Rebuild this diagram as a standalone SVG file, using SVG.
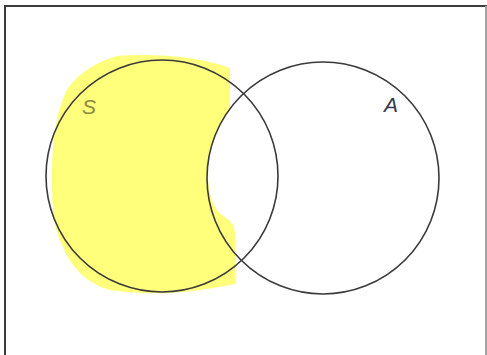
<svg xmlns="http://www.w3.org/2000/svg" width="487" height="355" viewBox="0 0 487 355">
<style>
.set{fill:none;stroke:#3a3a3a;stroke-width:1.6}
.lbl{font-family:"Liberation Sans",Arial,sans-serif;font-style:italic;font-size:21px}
</style>
<rect x="0" y="0" width="487" height="355" fill="#ffffff"/>
<path d="M5,360 L5,6 L486,6 L486,360" fill="none" stroke="#3c3c3c" stroke-width="2"/>
<line x1="486" y1="6" x2="486" y2="355" stroke="#c8c8c8" stroke-width="1.5"/>
<g id="highlight">
<path d="M117,56 C150,53 200,56 230,68 L230,110 C215,130 205,155 208,180 C210,200 215,210 222,215 C232,222 235,225 235,235 L235,284 C205,290 160,298 110,290 C85,283 70,265 62,245 C52,225 52,200 52,175 C52,140 56,110 68,88 C80,72 97,62 117,56 Z" fill="#ffff7c"/>
</g>
<g id="S">
<circle class="set" cx="162" cy="176" r="116"/>
<text class="lbl" x="82" y="114" fill="#8a8a3c">S</text>
</g>
<g id="A">
<circle class="set" cx="323" cy="178" r="116"/>
<text class="lbl" x="384" y="112" fill="#36394a">A</text>
</g>
</svg>
